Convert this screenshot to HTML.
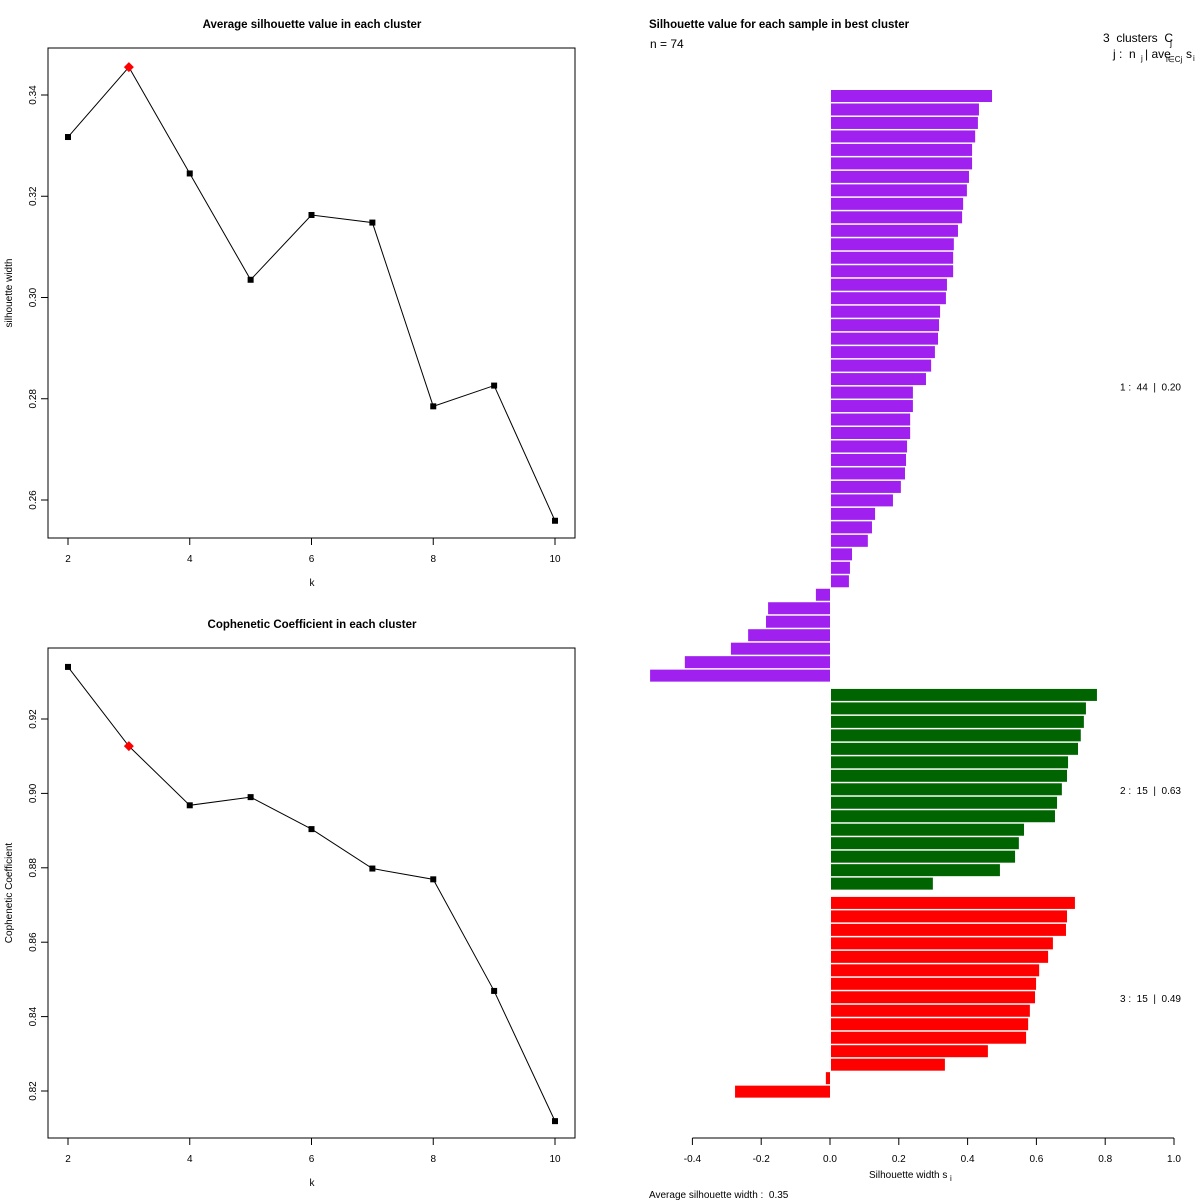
<!DOCTYPE html>
<html><head><meta charset="utf-8"><style>
body{margin:0;background:#fff}
svg{display:block;font-family:"Liberation Sans",sans-serif}
svg text{white-space:pre}
</style></head><body>
<svg id="c" width="1200" height="1200">
<rect width="1200" height="1200" fill="#fff"/>
</svg>
<script>
const ks=[2,3,4,5,6,7,8,9,10];
const silValues=[0.3317,0.3455,0.3245,0.3035,0.3163,0.3148,0.2785,0.2826,0.2559];
const silTicks=[0.26,0.28,0.30,0.32,0.34];
const copValues=[0.934,0.9127,0.8968,0.8990,0.8904,0.8798,0.8769,0.8469,0.8119];
const copTicks=[0.82,0.84,0.86,0.88,0.90,0.92];
const kTicks=[2,4,6,8,10];
const bestK=3;
const cluster1=[0.471,0.433,0.430,0.422,0.413,0.413,0.404,0.398,0.387,0.384,0.372,0.360,0.358,0.358,0.340,0.337,0.320,0.317,0.314,0.305,0.294,0.279,0.241,0.241,0.233,0.233,0.224,0.221,0.218,0.206,0.183,0.131,0.122,0.110,0.064,0.058,0.055,-0.041,-0.180,-0.186,-0.238,-0.288,-0.422,-0.523];
const cluster2=[0.776,0.744,0.738,0.729,0.721,0.692,0.689,0.674,0.660,0.654,0.564,0.549,0.538,0.494,0.299];
const cluster3=[0.712,0.689,0.686,0.648,0.634,0.608,0.599,0.596,0.581,0.576,0.570,0.459,0.334,-0.012,-0.276];
const clusterLabels=["1 :  44  |  0.20","2 :  15  |  0.63","3 :  15  |  0.49"];
const sTicks=[-0.4,-0.2,0.0,0.2,0.4,0.6,0.8,1.0];
const svg=document.getElementById('c');
const NS='http://www.w3.org/2000/svg';
function mk(t,a,p,txt){const e=document.createElementNS(NS,t);for(const k in a)e.setAttribute(k,a[k]);if(txt!==undefined)e.textContent=txt;(p||svg).appendChild(e);return e;}

function linePanel(vals,ticks,y0v,y0p,y1v,y1p,top,bot,title,ylab,name){
  const g=mk('g',{});
  
  
  const X=k=>68+(k-2)*(555-68)/8;
  const Y=v=>y0p+(v-y0v)*(y1p-y0p)/(y1v-y0v);
  const box=mk('rect',{x:48,y:top,width:527,height:bot-top,fill:'none',stroke:'#000'},g);
  
  const t=mk('text',{x:312,y:top-20,'text-anchor':'middle','font-size':11.5,'font-weight':'bold'},g,title);
  
  kTicks.forEach(k=>{mk('line',{x1:X(k),x2:X(k),y1:bot,y2:bot+7,stroke:'#000'},g);
    const l=mk('text',{x:X(k),y:bot+24,'text-anchor':'middle','font-size':10},g,k);
    });
  ticks.forEach(v=>{mk('line',{x1:48,x2:41,y1:Y(v),y2:Y(v),stroke:'#000'},g);
    const l=mk('text',{x:36,y:Y(v),'text-anchor':'middle','font-size':10,transform:`rotate(-90 36 ${Y(v)})`},g,v.toFixed(2));
    });
  const xl=mk('text',{x:312,y:bot+48,'text-anchor':'middle','font-size':10},g,'k');
  
  const my=(top+bot)/2;
  const yl=mk('text',{x:12,y:my,'text-anchor':'middle','font-size':10,transform:`rotate(-90 12 ${my})`},g,ylab);
  
  const pl=mk('polyline',{points:vals.map((v,i)=>X(ks[i])+','+Y(v)).join(' '),fill:'none',stroke:'#000'},g);
  
  vals.forEach((v,i)=>{
    let p;
    if(ks[i]===bestK){const cx=X(ks[i]),cy=Y(v);p=mk('polygon',{points:`${cx},${cy-5} ${cx+5},${cy} ${cx},${cy+5} ${cx-5},${cy}`,fill:'#f00'},g);}
    else p=mk('rect',{x:X(ks[i])-3,y:Y(v)-3,width:6,height:6,fill:'#000'},g);
    
  });
}
linePanel(silValues,silTicks,0.34,95,0.26,500,48,538,'Average silhouette value in each cluster','silhouette width','silhouette-panel');
linePanel(copValues,copTicks,0.92,719,0.82,1091,648,1138,'Cophenetic Coefficient in each cluster','Cophenetic Coefficient','cophenetic-panel');

const g=mk('g',{});

const SX=v=>830+v*344;
const step=13.48,gap=5.8,bh=12;
let y=90;
const clusters=[cluster1,cluster2,cluster3],cols=['#a020f0','#006400','#ff0000'];
clusters.forEach((cl,ci)=>{
  const start=y;
  cl.forEach(v=>{
    const x0=v>=0?SX(0)+1:SX(v);
    const w=v>=0?SX(v)-SX(0)-1:SX(0)-SX(v);
    const r=mk('rect',{x:x0,y:y,width:Math.max(w,1),height:bh,fill:cols[ci]},g);
    
    y+=step;
  });
  const mid=(start+y)/2;
  const t=mk('text',{x:1120,y:mid+4,'font-size':10},g,clusterLabels[ci]);
  
  y+=gap;
});
mk('line',{x1:SX(-0.4),x2:SX(1.0),y1:1138,y2:1138,stroke:'#000'},g);
sTicks.forEach(v=>{mk('line',{x1:SX(v),x2:SX(v),y1:1138,y2:1145,stroke:'#000'},g);
  const l=mk('text',{x:SX(v),y:1162,'text-anchor':'middle','font-size':10},g,v.toFixed(1));
  });
const txts=[
 [649,28,11.5,'bold','Silhouette value for each sample in best cluster','barplot-title'],
 [650,48,12,'normal','n = 74','sample-count'],
 [869,1178,10,'normal','Silhouette width s','x-axis-title'],
 [649,1198,10,'normal','Average silhouette width :  0.35','average-silhouette'],
 [1103,42,12,'normal','3  clusters  C','legend-header'],
 [1113,58,12,'normal','j :  n','legend-subheader']];
txts.forEach(a=>{const t=mk('text',{x:a[0],y:a[1],'font-size':a[2],'font-weight':a[3]},g,a[4]);
  });
mk('text',{x:950,y:1181,'font-size':8},g,'i');
mk('text',{x:1170,y:46,'font-size':9},g,'j');
mk('text',{x:1141,y:61,'font-size':8},g,'j');
mk('text',{x:1145,y:58,'font-size':12},g,'| ave');
mk('text',{x:1166,y:62,'font-size':8},g,'i∈Cj');
mk('text',{x:1186,y:58,'font-size':12},g,'s');
mk('text',{x:1193,y:61,'font-size':8},g,'i');
</script>
</body></html>
